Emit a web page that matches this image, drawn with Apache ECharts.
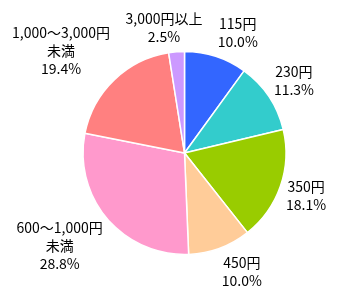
<!DOCTYPE html>
<html><head><meta charset="utf-8">
<script src="https://cdn.jsdelivr.net/npm/echarts@6/dist/echarts.min.js"></script>
<style>html,body{margin:0;padding:0;background:#fff}#c{width:346px;height:307px}</style>
</head><body><div id="c"></div>
<script>
const categories = ['115円','230円','350円','450円','600～1,000円\n未満','1,000～3,000円\n未満','3,000円以上'];
const values = [10.0, 11.3, 18.1, 10.0, 28.8, 19.4, 2.5];
const colors = ['#3366FF','#33CCCC','#99CC00','#FFCC99','#FF99CC','#FF8080','#CC99FF'];

const CX = 184.5, CY = 153, R = 101.5, GAP = 6, LH = 18, FS = 14;
const FONT = '"Noto Sans CJK JP","Noto Sans",sans-serif';

function labelText(i){ return categories[i] + '\n' + values[i].toFixed(1) + '%'; }
const clamp = v => Math.max(-1, Math.min(1, v));

const ctx = document.createElement('canvas').getContext('2d');
ctx.font = FS + 'px ' + FONT;
const total = values.reduce((a,b)=>a+b,0);
let acc = 0;
// "outside end" placement: anchor just outside the rim at the mid-angle,
// label box hung off that anchor on the side facing away from the pie
const pos = values.map((v,i)=>{
  const mid = (acc + v/2)/total*2*Math.PI; acc += v;
  const lines = labelText(i).split('\n');
  const w = Math.max(...lines.map(l=>ctx.measureText(l).width));
  const h = lines.length*LH;
  const s = Math.sin(mid), c = Math.cos(mid);
  const px = CX + (R+GAP)*s, py = CY - (R+GAP)*c;
  return {x: px + clamp(4*s)*w/2, y: py - clamp(1.3*c)*h/2};
});

const chart = echarts.init(document.getElementById('c'), null, {renderer:'canvas'});
chart.setOption({
  animation:false,
  series:[{
    type:'pie',
    center:[CX, CY],
    radius:R,
    startAngle:90,
    clockwise:true,
    avoidLabelOverlap:false,
    data: categories.map((n,i)=>({name:n, value:values[i], itemStyle:{color:colors[i]}})),
    itemStyle:{borderColor:'#fff', borderWidth:1.5},
    label:{show:true, position:'outside', formatter:p=>labelText(p.dataIndex),
      color:'#000', fontSize:FS, fontFamily:FONT, lineHeight:LH, align:'center'},
    labelLine:{show:false},
    labelLayout: p => ({x: pos[p.dataIndex].x, y: pos[p.dataIndex].y, align:'center', verticalAlign:'middle'}),
    emphasis:{disabled:true}
  }]
});
</script></body></html>
